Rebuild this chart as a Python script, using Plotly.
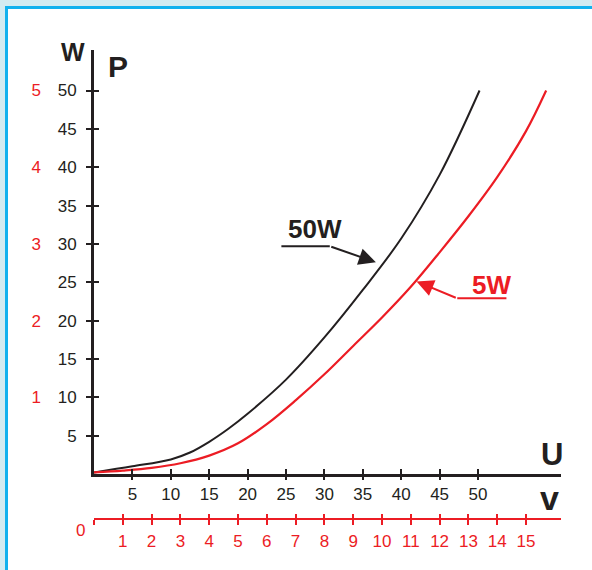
import plotly.graph_objects as go

# ---- data ----
# 50W lamp: voltage U (V, black scale 0-50) vs power P (W, black scale 0-50)
U_50W = [0, 5, 10, 12.5, 15, 17.5, 20, 25, 30, 35, 40, 45, 50.2]
P_50W = [0.2, 1.0, 1.9, 2.8, 4.2, 5.9, 7.85, 12.3, 17.8, 24.0, 30.7, 39.0, 50]

# 5W lamp: voltage (V, red scale 0-15) vs power (W, red scale 0-5)
U_5W = [0, 1, 2, 3, 4, 5, 6, 7, 8, 9, 10, 11, 12, 13, 14, 15, 15.7]
P_5W = [0.02, 0.045, 0.08, 0.14, 0.24, 0.40, 0.65, 0.96, 1.30, 1.67, 2.04, 2.44, 2.89, 3.36, 3.87, 4.47, 5.0]

black_x_ticks = [5, 10, 15, 20, 25, 30, 35, 40, 45, 50]
black_y_ticks = [5, 10, 15, 20, 25, 30, 35, 40, 45, 50]
red_x_ticks = list(range(0, 16))
red_x_labels = [""] + [str(v) for v in range(1, 16)]
red_y_ticks = [1, 2, 3, 4, 5]

BLACK = "#231f20"
RED = "#ec1c24"
BLUE = "#12b1ee"
LIGHT = "#d3ebf1"
FONT = "Liberation Sans, Arial, sans-serif"

W, H = 592, 570
ML, MR, MT, MB = 94, 31, 50, 20
PW, PH = W - ML - MR, H - MT - MB
PX_X = 7.68            # pixels per unit on U axis
PX_Y = 7.67            # pixels per unit on P axis
Y0_PX = 474            # pixel row of P=0
RED_AXIS_PX = 519.3    # pixel row of the red voltage scale
RATIO = 3.75           # black U units per red volt

x_max = PW / PX_X
ydom0 = (H - MB - Y0_PX) / PH
y_max = (Y0_PX - MT) / PX_Y
red_pos = (H - MB - RED_AXIS_PX) / PH

def px(xp):
    return (xp - ML) / PW

def py(yp):
    return (H - MB - yp) / PH

fig = go.Figure()

fig.add_trace(go.Scatter(x=U_50W, y=P_50W, mode="lines", line=dict(color=BLACK, width=2, shape="spline"),
                         xaxis="x", yaxis="y", showlegend=False, hoverinfo="skip"))
fig.add_trace(go.Scatter(x=U_5W, y=P_5W, mode="lines", line=dict(color=RED, width=2.2, shape="spline"),
                         xaxis="x3", yaxis="y3", showlegend=False, hoverinfo="skip"))
# invisible traces so the tick-only overlay axes are drawn
for xa, ya in [("x2", "y2"), ("x4", "y")]:
    fig.add_trace(go.Scatter(x=[None], y=[None], mode="lines", xaxis=xa, yaxis=ya,
                             showlegend=False, hoverinfo="skip"))

tickfont = dict(family=FONT, size=17, color=BLACK)
redfont = dict(family=FONT, size=17, color=RED)

common = dict(showgrid=False, zeroline=False, automargin=False)

fig.update_layout(
    width=W, height=H, autosize=False,
    margin=dict(l=ML, r=MR, t=MT, b=MB),
    paper_bgcolor=LIGHT, plot_bgcolor="rgba(0,0,0,0)",
    xaxis=dict(range=[0, x_max], domain=[0, 1], anchor="y", **common,
               showline=True, linecolor=BLACK, linewidth=3,
               ticks="inside", ticklen=5, tickwidth=2, tickcolor=BLACK,
               tickvals=black_x_ticks, tickfont=tickfont, ticklabelstandoff=3),
    xaxis2=dict(range=[0, x_max], overlaying="x", anchor="y", **common,
                showline=False, ticks="outside", ticklen=5, tickwidth=2, tickcolor=BLACK,
                tickvals=black_x_ticks, showticklabels=False),
    xaxis3=dict(range=[0, x_max / RATIO], overlaying="x", anchor="free", position=red_pos, **common,
                showline=True, linecolor=RED, linewidth=2,
                ticks="outside", ticklen=5, tickwidth=2, tickcolor=RED,
                tickvals=red_x_ticks, ticktext=red_x_labels, tickfont=redfont, ticklabelstandoff=1),
    xaxis4=dict(range=[0, x_max / RATIO], overlaying="x", anchor="free", position=red_pos, **common,
                showline=False, ticks="inside", ticklen=5, tickwidth=2, tickcolor=RED,
                tickvals=red_x_ticks, showticklabels=False),
    yaxis=dict(range=[0, y_max], domain=[ydom0, 1], anchor="x", **common,
               showline=True, linecolor=BLACK, linewidth=3,
               ticks="outside", ticklen=5, tickwidth=2, tickcolor=BLACK,
               tickvals=black_y_ticks, tickfont=tickfont, ticklabelstandoff=6),
    yaxis2=dict(range=[0, y_max], overlaying="y", anchor="x", **common,
                showline=False, ticks="inside", ticklen=5, tickwidth=2, tickcolor=BLACK,
                tickvals=black_y_ticks, showticklabels=False),
    yaxis3=dict(range=[0, y_max / 10], overlaying="y", anchor="x", **common,
                showline=False, ticks="", tickvals=red_y_ticks, tickfont=redfont,
                ticklabelstandoff=52),
)

# white panel with blue border
fig.add_shape(type="rect", xref="paper", yref="paper",
              x0=px(6.5), x1=px(900), y0=py(7.5), y1=py(900),
              line=dict(color=BLUE, width=3), fillcolor="white", layer="below")

# axis letters
def lab(text, xp, yp, size, color=BLACK, bold=True):
    fig.add_annotation(text=text, x=px(xp), y=py(yp), xref="paper", yref="paper",
                       showarrow=False, xanchor="center", yanchor="middle",
                       font=dict(family=FONT, size=size, color=color,
                                 weight="bold" if bold else "normal"))

lab("W", 73, 52, 25)
lab("P", 117.5, 66, 30)
lab("U", 552, 454, 31)
lab("v", 549, 498, 34)
lab("0", 80, 530, 17, RED, bold=False)

# callouts
def callout(text, color, tx, ty, x_start, x_bend, y_line, x_tip, y_tip):
    fig.add_annotation(text=text, x=tx, y=ty, xref="x", yref="y", showarrow=False,
                       xanchor="center", yanchor="middle",
                       font=dict(family=FONT, size=26, color=color, weight="bold"))
    fig.add_shape(type="line", xref="x", yref="y", x0=x_start, x1=x_bend, y0=y_line, y1=y_line,
                  line=dict(color=color, width=2))
    fig.add_annotation(text="", x=x_tip, y=y_tip, ax=x_bend, ay=y_line, xref="x", yref="y",
                       axref="x", ayref="y", showarrow=True, arrowhead=2, arrowsize=1.7,
                       arrowwidth=2, arrowcolor=color, standoff=0)

callout("50W", BLACK, 28.8, 32.0, 24.4, 30.7, 29.7, 36.7, 27.6)
callout("5W", RED, 51.7, 24.6, 53.7, 47.3, 22.9, 42.0, 25.1)

fig.write_html("out.html", config={"displayModeBar": False},
               post_script="document.body.style.margin='0';document.body.style.overflow='hidden';")
